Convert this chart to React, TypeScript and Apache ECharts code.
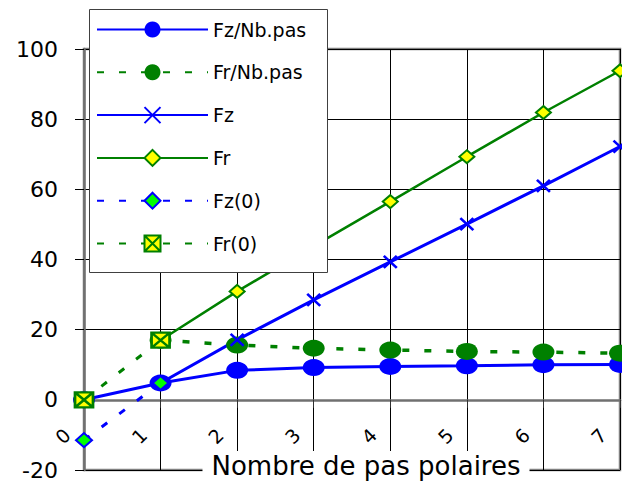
import React, { useEffect, useRef } from "react";
import * as echarts from "echarts";

// ---- data ----
const xValues = [0, 1, 2, 3, 4, 5, 6, 7];
const fzNbPas = [0, 4.8, 8.4, 9.2, 9.5, 9.7, 10.0, 10.1];
const frNbPas = [null, 17.0, 15.6, 14.7, 14.2, 13.8, 13.6, 13.3];
const fzValues = [null, 4.8, 17.1, 28.5, 39.3, 50.1, 61.0, 72.2];
const frValues = [null, 17.0, 30.9, 43.8, 56.5, 69.3, 81.9, 93.8];
const fz0Values = [-11.5, 4.8, null, null, null, null, null, null];
const fr0Values = [0, 17.0, null, null, null, null, null, null];
const seriesNames = ["Fz/Nb.pas", "Fr/Nb.pas", "Fz", "Fr", "Fz(0)", "Fr(0)"];
const xMin = 0;
const xMax = 7;
const xStep = 1;
const yMin = -20;
const yMax = 100;
const yStep = 20;
const xAxisTitle = "Nombre de pas polaires";

const BLUE = "#0000ff";
const GREEN = "#008000";
const YELLOW = "#ffff00";
const LIME = "#00ff00";
const FONT = "DejaVu Sans";

const X_SYMBOL = "path://M0,0L16,16M16,0L0,16";
const BOX_X_SYMBOL = "path://M0,0H18V18H0ZM0,0L18,18M18,0L0,18";

const GRID_TOP = 49;
const GRID_BOTTOM = 12;
const CHART_H = 482;

function pairs(vals: (number | null)[]) {
  return xValues
    .map((x, i) => [x, vals[i]])
    .filter((p) => p[1] !== null && p[1] !== undefined);
}

export default function App() {
  const ref = useRef<HTMLDivElement>(null);
  useEffect(() => {
    if (!ref.current) return;
    const chart = echarts.init(ref.current, null, { renderer: "svg" });
    // distance (px) from the bottom of the plot to the value 0, so the x axis sits on zero
    const plotH = CHART_H - GRID_TOP - GRID_BOTTOM;
    const zeroOffset = -((0 - yMin) / (yMax - yMin)) * plotH;
    const option: any = {
      animation: false,
      backgroundColor: "#ffffff",
      grid: {
        left: 84,
        top: GRID_TOP,
        right: 2,
        bottom: GRID_BOTTOM,
        outerBoundsMode: "none",
        containLabel: false,
        show: true,
        borderColor: "#808080",
        borderWidth: 2.5,
        backgroundColor: "transparent",
      },
      xAxis: {
        type: "value",
        min: xMin,
        max: xMax,
        interval: xStep,
        position: "bottom",
        offset: zeroOffset,
        axisLine: { show: true, onZero: false, lineStyle: { color: "#707070", width: 2.5 } },
        axisTick: { show: true, length: 8, lineStyle: { color: "#303030", width: 1 } },
        splitLine: { show: true, lineStyle: { color: "#000000", width: 1 } },
        axisLabel: {
          rotate: 45,
          margin: 15,
          padding: [0, 24, 0, 0],
          fontFamily: FONT,
          fontSize: 19,
          color: "#000000",
          showMinLabel: true,
          showMaxLabel: true,
        },
      },
      yAxis: {
        type: "value",
        min: yMin,
        max: yMax,
        interval: yStep,
        axisLine: { show: true, onZero: false, lineStyle: { color: "#707070", width: 2.5 } },
        axisTick: { show: true, length: 9, lineStyle: { color: "#000000", width: 1 } },
        splitLine: { show: true, lineStyle: { color: "#000000", width: 1 } },
        axisLabel: {
          margin: 26,
          fontFamily: FONT,
          fontSize: 22,
          lineHeight: 20,
          color: "#000000",
        },
      },
      legend: {
        data: seriesNames,
        orient: "vertical",
        left: 96,
        top: 20,
        padding: 0,
        itemWidth: 111,
        itemHeight: 20,
        itemGap: 23.8,
        selectedMode: false,
        itemStyle: { borderWidth: 2 },
        textStyle: { fontFamily: FONT, fontSize: 19, color: "#000000" },
        z: 6,
      },
      graphic: [
        {
          type: "rect",
          z: 5,
          shape: { x: 89.5, y: 9.5, width: 238, height: 263 },
          style: { fill: "#ffffff", stroke: "#404040", lineWidth: 1 },
        },
        {
          type: "text",
          z: 5,
          x: 366,
          y: 451,
          style: {
            text: xAxisTitle,
            fontFamily: FONT,
            fontSize: 26,
            fill: "#000000",
            align: "center",
            verticalAlign: "top",
            backgroundColor: "#ffffff",
            padding: [2, 9, 6, 9],
          },
        },
      ],
      series: [
        {
          name: seriesNames[0],
          type: "line",
          data: pairs(fzNbPas),
          symbol: "circle",
          symbolSize: [22, 17],
          lineStyle: { color: BLUE, width: 3 },
          itemStyle: { color: BLUE },
        },
        {
          name: seriesNames[1],
          type: "line",
          data: pairs(frNbPas),
          symbol: "circle",
          symbolSize: [22, 17],
          lineStyle: { color: GREEN, width: 3.5, type: [7, 15] },
          itemStyle: { color: GREEN },
        },
        {
          name: seriesNames[2],
          type: "line",
          data: pairs(fzValues),
          symbol: X_SYMBOL,
          symbolSize: [13, 12],
          lineStyle: { color: BLUE, width: 3 },
          itemStyle: { color: BLUE, borderColor: BLUE, borderWidth: 2.5 },
        },
        {
          name: seriesNames[3],
          type: "line",
          data: pairs(frValues),
          symbol: "diamond",
          symbolSize: [15, 13],
          lineStyle: { color: GREEN, width: 2.5 },
          itemStyle: { color: YELLOW, borderColor: GREEN, borderWidth: 2 },
        },
        {
          name: seriesNames[4],
          type: "line",
          data: pairs(fz0Values),
          symbol: "diamond",
          symbolSize: [16, 14],
          lineStyle: { color: BLUE, width: 3, type: [7, 15] },
          itemStyle: { color: LIME, borderColor: BLUE, borderWidth: 2 },
        },
        {
          name: seriesNames[5],
          type: "line",
          data: pairs(fr0Values),
          symbol: BOX_X_SYMBOL,
          symbolSize: [18, 15],
          lineStyle: { color: GREEN, width: 3, type: [7, 15] },
          itemStyle: { color: YELLOW, borderColor: GREEN, borderWidth: 2.5 },
        },
      ],
    };
    chart.setOption(option);
    return () => chart.dispose();
  }, []);
  return (
    <div
      ref={ref}
      style={{ position: "fixed", left: 0, top: 0, width: 622, height: 482 }}
    />
  );
}
